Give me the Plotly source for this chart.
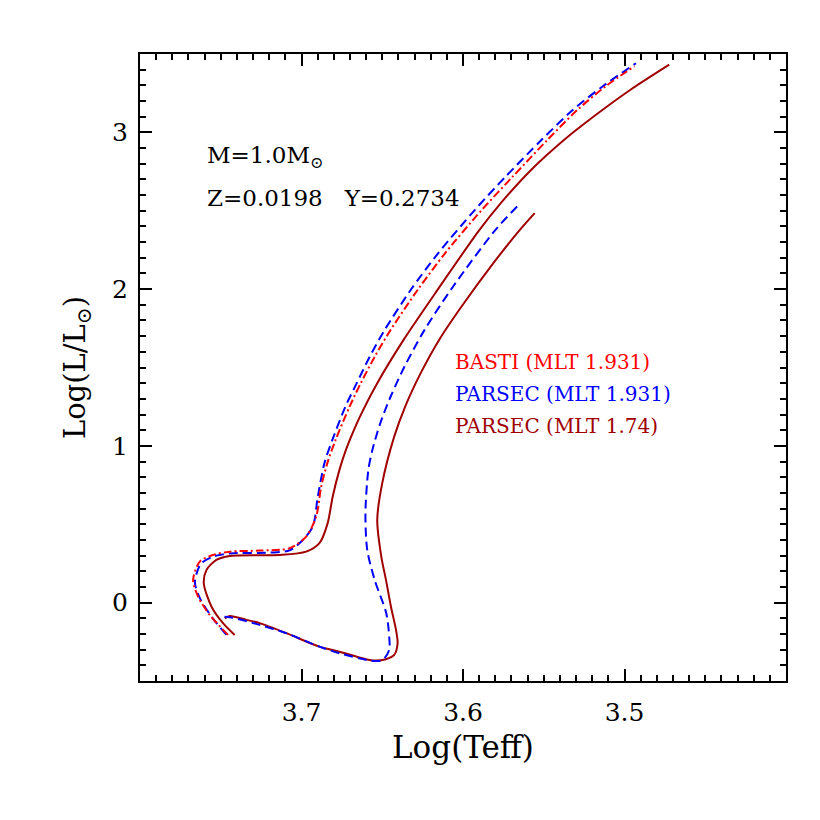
import plotly.graph_objects as go

# BASTI (MLT 1.931) - main track
basti_teff = [3.7455, 3.7568, 3.7640, 3.7671, 3.7630, 3.7548, 3.7444, 3.7259, 3.7074, 3.6971,
              3.6909, 3.6878, 3.6840, 3.6789, 3.6702, 3.6633, 3.6546, 3.6448, 3.6280, 3.6110,
              3.5883, 3.5691, 3.5476, 3.5291, 3.5118, 3.4939]
basti_lum = [-0.206, -0.079, 0.038, 0.145, 0.262, 0.304, 0.325, 0.332, 0.347, 0.421,
             0.549, 0.740, 0.890, 1.038, 1.251, 1.400, 1.570, 1.740, 1.996, 2.230,
             2.506, 2.719, 2.953, 3.144, 3.293, 3.421]

# PARSEC (MLT 1.931) - main track and pre-main sequence
parsec1_teff = [3.7465, 3.7556, 3.7630, 3.7660, 3.7623, 3.7543, 3.7444, 3.7198, 3.7074, 3.6992,
                3.6930, 3.6899, 3.6858, 3.6809, 3.6728, 3.6658, 3.6577, 3.6485, 3.6323, 3.6153,
                3.5926, 3.5735, 3.5513, 3.5319, 3.5136, 3.4929]
parsec1_lum = [-0.206, -0.091, 0.030, 0.132, 0.247, 0.295, 0.314, 0.319, 0.333, 0.400,
               0.485, 0.676, 0.890, 1.038, 1.251, 1.400, 1.570, 1.740, 1.996, 2.230,
               2.506, 2.719, 2.953, 3.144, 3.293, 3.441]
parsec1_pms_teff = [3.5665, 3.5799, 3.6061, 3.6238, 3.6362, 3.6448, 3.6512, 3.6561, 3.6586, 3.6604,
                    3.6593, 3.6547, 3.6475, 3.6457, 3.6457, 3.6498, 3.6570, 3.6765, 3.6889,
                    3.7094, 3.7259, 3.7444, 3.7506]
parsec1_pms_lum = [2.527, 2.378, 2.017, 1.740, 1.506, 1.315, 1.145, 0.974, 0.847, 0.571,
                   0.336, 0.145, -0.068, -0.217, -0.302, -0.366, -0.370, -0.323, -0.281,
                   -0.195, -0.142, -0.093, -0.089]

# PARSEC (MLT 1.74) - main track and pre-main sequence
parsec2_teff = [3.7414, 3.7486, 3.7557, 3.7605, 3.7588, 3.7527, 3.7444, 3.7136, 3.6971, 3.6889,
                3.6838, 3.6807, 3.6765, 3.6725, 3.6675, 3.6638, 3.6531, 3.6368, 3.6172, 3.5898,
                3.5766, 3.5577, 3.5373, 3.5191, 3.4963, 3.4723]
parsec2_lum = [-0.206, -0.131, -0.026, 0.124, 0.209, 0.273, 0.298, 0.304, 0.325, 0.379,
               0.507, 0.676, 0.847, 0.974, 1.102, 1.187, 1.400, 1.676, 1.974, 2.378,
               2.549, 2.762, 2.953, 3.101, 3.272, 3.432]
parsec2_pms_teff = [3.5556, 3.5648, 3.5812, 3.6009, 3.6148, 3.6262, 3.6358, 3.6426, 3.6500,
                    3.6531, 3.6506, 3.6477, 3.6446, 3.6415, 3.6405, 3.6426, 3.6477, 3.6560, 3.6765,
                    3.6889, 3.7094, 3.7259, 3.7341, 3.7444, 3.7475]
parsec2_pms_lum = [2.485, 2.378, 2.166, 1.889, 1.676, 1.464, 1.251, 1.059, 0.762,
                   0.528, 0.294, 0.145, -0.026, -0.174, -0.259, -0.334, -0.361, -0.369, -0.313,
                   -0.281, -0.195, -0.131, -0.110, -0.085, -0.100]

RED = "#FF0000"
BLUE = "#0000FF"
DARKRED = "#A00000"
FONT = "DejaVu Serif"

fig = go.Figure()

def add_track(x, y, color, dash):
    fig.add_trace(go.Scatter(
        x=x, y=y, mode="lines",
        line=dict(color=color, width=2, dash=dash, shape="spline", smoothing=0.8),
        showlegend=False, hoverinfo="skip",
    ))

add_track(parsec2_teff, parsec2_lum, DARKRED, "solid")
add_track(parsec2_pms_teff, parsec2_pms_lum, DARKRED, "solid")
add_track(parsec1_teff, parsec1_lum, BLUE, "9px,5px")
add_track(parsec1_pms_teff, parsec1_pms_lum, BLUE, "9px,5px")
add_track(basti_teff, basti_lum, RED, "8px,3px,2px,3px")

# text labels
fig.add_annotation(x=0.1, y=0.836, xref="paper", yref="paper", xanchor="left", yanchor="middle",
                   text="M=1.0M<sub>⊙</sub>", showarrow=False, font=dict(size=23, color="black"))
fig.add_annotation(x=0.1, y=0.770, xref="paper", yref="paper", xanchor="left", yanchor="middle",
                   text="Z=0.0198   Y=0.2734", showarrow=False, font=dict(size=23, color="black"))

labels = ["BASTI (MLT 1.931)", "PARSEC (MLT 1.931)", "PARSEC (MLT 1.74)"]
label_colors = [RED, BLUE, DARKRED]
label_y = [0.508, 0.458, 0.406]
for txt, col, yy in zip(labels, label_colors, label_y):
    fig.add_annotation(x=0.484, y=yy, xref="paper", yref="paper", xanchor="left", yanchor="middle",
                       text=txt, showarrow=False, font=dict(size=20, color=col))

axis_style = dict(
    showline=True, linecolor="black", linewidth=2, mirror="ticks",
    ticks="inside", ticklen=12, tickwidth=2, tickcolor="black",
    showgrid=False, zeroline=False,
    tickfont=dict(size=25, color="black"),
)

fig.update_xaxes(
    range=[3.8, 3.4], tickvals=[3.7, 3.6, 3.5], ticktext=["3.7", "3.6", "3.5"],
    ticklabelstandoff=8,
    minor=dict(dtick=0.01, ticks="inside", ticklen=6, tickwidth=2, tickcolor="black", showgrid=False),
    title=dict(text="Log(Teff)", font=dict(size=31, color="black"), standoff=10),
    **axis_style,
)
fig.update_yaxes(
    range=[-0.5, 3.5], tickvals=[0, 1, 2, 3], ticktext=["0", "1", "2", "3"],
    ticklabelstandoff=5,
    minor=dict(dtick=0.1, ticks="inside", ticklen=6, tickwidth=2, tickcolor="black", showgrid=False),
    title=dict(text="Log(L/L<sub>⊙</sub>)", font=dict(size=29, color="black"), standoff=18),
    **axis_style,
)

fig.update_layout(
    width=820, height=820,
    margin=dict(l=132, r=42, t=46, b=147),
    plot_bgcolor="white", paper_bgcolor="white",
    font=dict(family=FONT, color="black"),
)

fig.write_html("out.html")
